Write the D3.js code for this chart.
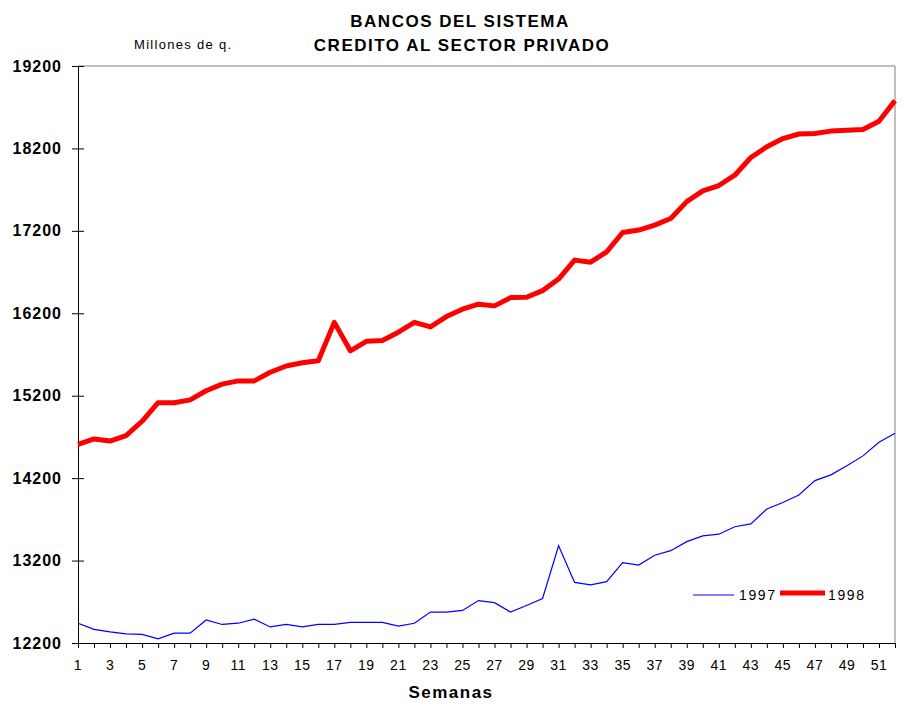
<!DOCTYPE html>
<html>
<head>
<meta charset="utf-8">
<script src="https://cdn.jsdelivr.net/npm/d3@7"></script>
<style>
  body { margin: 0; background: #fff; }
  text { font-family: Arial, "Liberation Sans", sans-serif; }
</style>
</head>
<body>
<div id="chart"></div>
<script>
"use strict";

// semanas 1..52
var weeks = d3.range(1, 53);

var credito1997 = [
  12440, 12365, 12335, 12310, 12305, 12250, 12320, 12320, 12480, 12425,
  12440, 12490, 12395, 12425, 12395, 12425, 12425, 12450, 12450, 12450,
  12405, 12440, 12575, 12575, 12595, 12715, 12690, 12575, 12655, 12740,
  13380, 12935, 12905, 12945, 13175, 13145, 13265, 13320, 13430, 13500,
  13520, 13610, 13645, 13825, 13905, 13995, 14170, 14240, 14350, 14470,
  14635, 14745
];

var credito1998 = [
  14610, 14675, 14650, 14715, 14890, 15115, 15115, 15150, 15260, 15340,
  15380, 15380, 15485, 15560, 15600, 15625, 16090, 15745, 15860, 15870,
  15970, 16090, 16035, 16160, 16250, 16310, 16290, 16390, 16395, 16475,
  16615, 16845, 16820, 16945, 17180, 17210, 17270, 17350, 17555, 17685,
  17750, 17875, 18090, 18220, 18320, 18375, 18380, 18410, 18420, 18430,
  18530, 18780
];

var yTicks = [12200, 13200, 14200, 15200, 16200, 17200, 18200, 19200];
var xTickLabels = d3.range(1, 53, 2);

var width = 920;
var height = 720;
var margin = {top: 66, right: 25, bottom: 77, left: 78};

var svg = d3.select("#chart").append("svg")
  .attr("width", width)
  .attr("height", height);

var x = d3.scaleLinear().domain([1, 52]).range([margin.left, width - margin.right]);
var y = d3.scaleLinear().domain([12200, 19200]).range([height - margin.bottom, margin.top]);

// marco gris superior y derecho
svg.append("path")
  .attr("d", "M" + x(1) + "," + y(19200) + "H" + x(52) + "V" + y(12200))
  .attr("fill", "none")
  .attr("stroke", "#808080")
  .attr("stroke-width", 1);

// eje Y
var yAxis = svg.append("g")
  .attr("transform", "translate(" + margin.left + ",0)")
  .call(d3.axisLeft(y).tickValues(yTicks).tickFormat(d3.format("d")).tickSizeInner(6).tickSizeOuter(0).tickPadding(10));
yAxis.select(".domain").attr("stroke", "#000");
yAxis.selectAll(".tick line").attr("x1", 6).attr("x2", -6).attr("stroke", "#000");
yAxis.selectAll(".tick text")
  .attr("font-size", 16)
  .attr("font-weight", "bold")
  .attr("letter-spacing", 1)
  .attr("fill", "#000")
  .attr("font-family", "Arial, 'Liberation Sans', sans-serif");

// eje X
var xAxis = svg.append("g")
  .attr("transform", "translate(0," + y(12200) + ")")
  .call(d3.axisBottom(x).tickValues(weeks).tickFormat("").tickSizeInner(5).tickSizeOuter(0));
xAxis.select(".domain").attr("stroke", "#000");
xAxis.selectAll(".tick line").attr("stroke", "#000");

svg.append("g").selectAll("text")
  .data(xTickLabels)
  .join("text")
  .attr("x", d => x(d))
  .attr("y", y(12200) + 27)
  .attr("text-anchor", "middle")
  .attr("font-size", 14)
  .attr("letter-spacing", 0.5)
  .text(d => d);

// lineas
var line = d3.line()
  .x((d, i) => x(weeks[i]))
  .y(d => y(d));

svg.append("path")
  .datum(credito1997)
  .attr("d", line)
  .attr("fill", "none")
  .attr("stroke", "#0000ff")
  .attr("stroke-width", 1.2);

svg.append("path")
  .datum(credito1998)
  .attr("d", line)
  .attr("fill", "none")
  .attr("stroke", "#ff0000")
  .attr("stroke-width", 5)
  .attr("stroke-linejoin", "round");

// titulos
svg.append("text")
  .attr("x", 460).attr("y", 27)
  .attr("text-anchor", "middle")
  .attr("font-size", 17)
  .attr("font-weight", "bold")
  .attr("letter-spacing", 1.5)
  .text("BANCOS DEL SISTEMA");
svg.append("text")
  .attr("x", 462).attr("y", 51)
  .attr("text-anchor", "middle")
  .attr("font-size", 17)
  .attr("font-weight", "bold")
  .attr("letter-spacing", 1.5)
  .text("CREDITO AL SECTOR PRIVADO");
svg.append("text")
  .attr("x", 134).attr("y", 49)
  .attr("font-size", 13)
  .attr("letter-spacing", 1.3)
  .text("Millones de q.");
svg.append("text")
  .attr("x", 451).attr("y", 698)
  .attr("text-anchor", "middle")
  .attr("font-size", 17)
  .attr("font-weight", "bold")
  .attr("letter-spacing", 1.5)
  .text("Semanas");

// leyenda
var legend = svg.append("g");
legend.append("line")
  .attr("x1", 693).attr("x2", 734).attr("y1", 595).attr("y2", 595)
  .attr("stroke", "#0000ff").attr("stroke-width", 1.2);
legend.append("text")
  .attr("x", 739).attr("y", 600)
  .attr("font-size", 14).attr("letter-spacing", 1.6)
  .text("1997");
legend.append("line")
  .attr("x1", 780).attr("x2", 825).attr("y1", 593).attr("y2", 593)
  .attr("stroke", "#ff0000").attr("stroke-width", 5);
legend.append("text")
  .attr("x", 828).attr("y", 600)
  .attr("font-size", 14).attr("letter-spacing", 1.6)
  .text("1998");
</script>
</body>
</html>
